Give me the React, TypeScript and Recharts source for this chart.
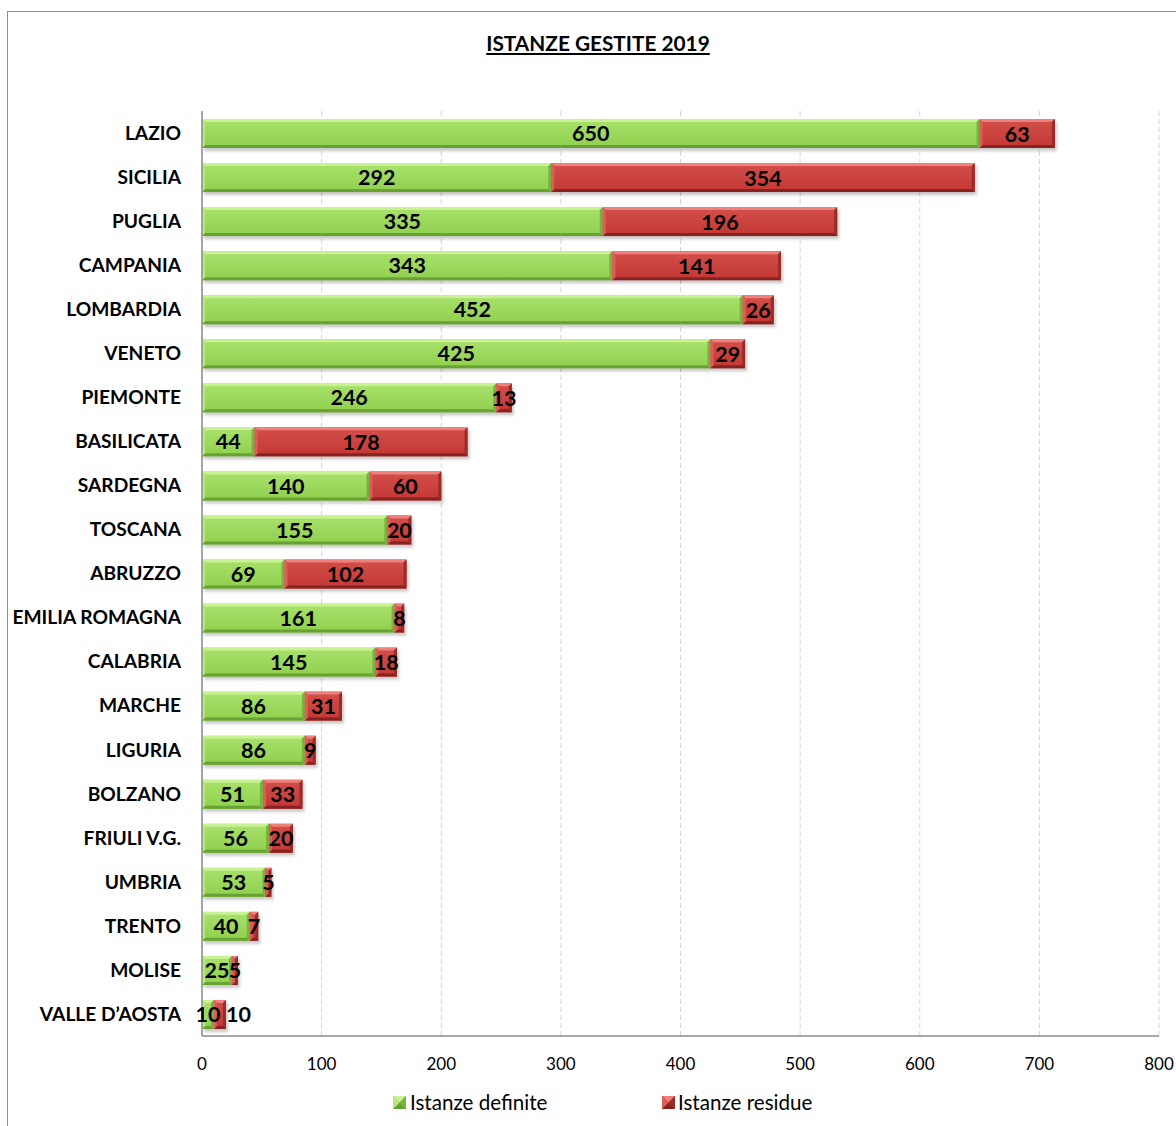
import React from "react";
import { BarChart, Bar, XAxis, YAxis, CartesianGrid, LabelList } from "recharts";

const regions = [
  "LAZIO", "SICILIA", "PUGLIA", "CAMPANIA", "LOMBARDIA", "VENETO", "PIEMONTE",
  "BASILICATA", "SARDEGNA", "TOSCANA", "ABRUZZO", "EMILIA ROMAGNA", "CALABRIA",
  "MARCHE", "LIGURIA", "BOLZANO", "FRIULI V.G.", "UMBRIA", "TRENTO", "MOLISE",
  "VALLE D\u2019AOSTA",
];
const definite = [650, 292, 335, 343, 452, 425, 246, 44, 140, 155, 69, 161, 145, 86, 86, 51, 56, 53, 40, 25, 10];
const residue = [63, 354, 196, 141, 26, 29, 13, 178, 60, 20, 102, 8, 18, 31, 9, 33, 20, 5, 7, 5, 10];
const xTicks = [0, 100, 200, 300, 400, 500, 600, 700, 800];

const title = "ISTANZE GESTITE 2019";
const seriesNames = ["Istanze definite", "Istanze residue"];

const data = regions.map((r, i) => ({ region: r, definite: definite[i], residue: residue[i] }));

const FONT = "Lato, 'Open Sans', sans-serif";
const LABEL_SIZE = 21.5;

const palettes: Record<string, any> = {
  green: { id: "gGreen", top: "#c9f295", body1: "#a9e26c", body2: "#8fcf4e", bottom: "#67a232", left: "#b5e87e", right: "#78b23f" },
  red: { id: "gRed", top: "#ee817b", body1: "#d3504b", body2: "#c23733", bottom: "#86221f", left: "#dc5e59", right: "#9c2a27" },
};

const BevelBar = (kind: string) => (props: any) => {
  const { x, y, width, height } = props;
  if (!width || width <= 0) return null;
  const p = palettes[kind];
  const b = Math.min(3, width / 2);
  return (
    <g>
      <rect x={x + 2} y={y + 3} width={width} height={height} fill="rgba(0,0,0,0.22)" filter="url(#shadowBlur)" />
      <rect x={x} y={y} width={width} height={height} fill={`url(#${p.id})`} />
      <polygon points={`${x},${y} ${x + width},${y} ${x + width - b},${y + b} ${x + b},${y + b}`} fill={p.top} />
      <polygon points={`${x},${y + height} ${x + width},${y + height} ${x + width - b},${y + height - b} ${x + b},${y + height - b}`} fill={p.bottom} />
      <polygon points={`${x},${y} ${x + b},${y + b} ${x + b},${y + height - b} ${x},${y + height}`} fill={p.left} />
      <polygon points={`${x + width},${y} ${x + width - b},${y + b} ${x + width - b},${y + height - b} ${x + width},${y + height}`} fill={p.right} />
    </g>
  );
};

// Residue label: centred, except when both stacked segments are too thin to hold
// their labels, in which case it sits just to the right of the bar (as in the original).
const ResidueLabel = (props: any) => {
  const { x, y, width, height, value, index } = props;
  const row = data[index];
  const bothThin = row && row.definite < 20 && width < 20;
  const cx = bothThin ? x + width : x + width / 2;
  return (
    <text
      x={cx}
      y={y + height / 2}
      textAnchor={bothThin ? "start" : "middle"}
      dominantBaseline="central"
      fill="#000"
      fontSize={LABEL_SIZE}
      fontWeight={700}
      fontFamily={FONT}
    >
      {value}
    </text>
  );
};

const LegendIcon = ({ kind }: { kind: string }) => {
  const p = palettes[kind];
  return (
    <svg width={13} height={13} style={{ display: "block" }}>
      <rect x={0} y={0} width={13} height={13} fill={p.body2} />
      <polygon points="0,0 13,0 6.5,6.5" fill={p.top} />
      <polygon points="0,13 13,13 6.5,6.5" fill={p.bottom} />
      <polygon points="0,0 6.5,6.5 0,13" fill={p.left} />
      <polygon points="13,0 6.5,6.5 13,13" fill={p.right} />
    </svg>
  );
};

export default function App() {
  return (
    <div style={{ position: "absolute", left: 0, top: 0, width: 1176, height: 1126, overflow: "hidden", background: "#fff" }}>
      <div style={{ position: "absolute", left: 7, top: 11, width: 1200, height: 1200, border: "1.5px solid #8c8c8c", boxSizing: "border-box" }} />
      <div style={{ position: "absolute", left: 0, top: 30, width: 1196, textAlign: "center", fontFamily: FONT, fontWeight: 700, fontSize: 20.8, textDecoration: "underline", color: "#000" }}>
        {title}
      </div>
      <div style={{ position: "absolute", left: 0, top: 0 }}>
        <BarChart
          width={1176}
          height={1126}
          data={data}
          layout="vertical"
          margin={{ top: 111, right: 17, bottom: 60, left: 0 }}
          barSize={29}
        >
          <defs>
            <linearGradient id="gGreen" x1="0" y1="0" x2="0" y2="1">
              <stop offset="0" stopColor={palettes.green.body1} />
              <stop offset="1" stopColor={palettes.green.body2} />
            </linearGradient>
            <linearGradient id="gRed" x1="0" y1="0" x2="0" y2="1">
              <stop offset="0" stopColor={palettes.red.body1} />
              <stop offset="1" stopColor={palettes.red.body2} />
            </linearGradient>
            <filter id="shadowBlur" x="-10%" y="-30%" width="130%" height="160%">
              <feGaussianBlur stdDeviation="1.5" />
            </filter>
          </defs>
          <CartesianGrid horizontal={false} stroke="#d4d4d4" strokeDasharray="5 3" />
          <XAxis
            type="number"
            domain={[0, 800]}
            ticks={xTicks}
            interval={0}
            height={30}
            tickLine={false}
            tickSize={0}
            tickMargin={22}
            axisLine={{ stroke: "#8c8c8c", strokeWidth: 1.5 }}
            tick={{ fill: "#000", fontSize: 17, fontFamily: FONT }}
          />
          <YAxis
            type="category"
            dataKey="region"
            width={202}
            interval={0}
            tickLine={false}
            tickSize={0}
            tickMargin={21}
            axisLine={{ stroke: "#8c8c8c", strokeWidth: 1.5 }}
            tick={{ fill: "#000", fontSize: 19.2, fontWeight: 700, fontFamily: FONT }}
          />
          <Bar dataKey="definite" stackId="a" name={seriesNames[0]} isAnimationActive={false} shape={BevelBar("green")}>
            <LabelList dataKey="definite" position="center" fill="#000" fontSize={LABEL_SIZE} fontWeight={700} fontFamily={FONT} />
          </Bar>
          <Bar dataKey="residue" stackId="a" name={seriesNames[1]} isAnimationActive={false} shape={BevelBar("red")}>
            <LabelList dataKey="residue" content={ResidueLabel} />
          </Bar>
        </BarChart>
      </div>
      <div style={{ position: "absolute", left: 393, top: 1090, display: "flex", alignItems: "center", fontFamily: FONT, fontSize: 20.6, color: "#000" }}>
        <LegendIcon kind="green" />
        <span style={{ marginLeft: 4 }}>{seriesNames[0]}</span>
      </div>
      <div style={{ position: "absolute", left: 662, top: 1090, display: "flex", alignItems: "center", fontFamily: FONT, fontSize: 20.6, color: "#000" }}>
        <LegendIcon kind="red" />
        <span style={{ marginLeft: 3 }}>{seriesNames[1]}</span>
      </div>
    </div>
  );
}
